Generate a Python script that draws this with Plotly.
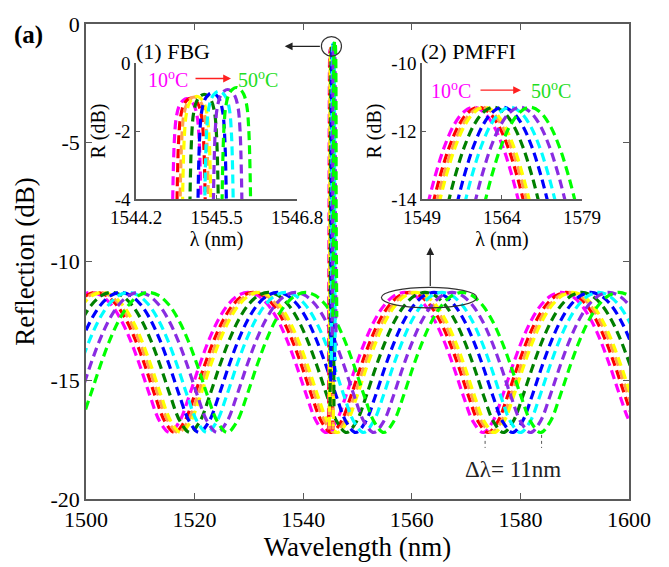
import plotly.graph_objects as go

# ---------------- data ----------------
temps_c = [10, 15, 20, 25, 30, 35, 40, 45, 50]
colors = ["#FF00FF", "#FF0000", "#FFA050", "#FFFF00", "#008000",
          "#0000FF", "#00FFFF", "#8A2BE2", "#00FF00"]

# PMFFI fringe: wavelength of the reflection dip near 1515-1526 nm (per temperature)
pm_dip_nm = [1515.40, 1516.34, 1516.96, 1517.46, 1519.15, 1520.84, 1522.28, 1524.15, 1526.00]
pm_period_nm = 28.85
# one fringe period, read every 1/16 period starting at the dip (dB)
pm_profile_db = [-17.20, -16.74, -15.66, -14.43, -13.32, -12.43, -11.80, -11.43,
                 -11.30, -11.43, -11.80, -12.43, -13.32, -14.43, -15.66, -16.74]

# FBG reflection peak (per temperature)
fbg_center_nm = [1545.02, 1545.09, 1545.14, 1545.18, 1545.30, 1545.43, 1545.54, 1545.68, 1545.82]
fbg_peak_db = [-1.05, -1.03, -1.00, -0.98, -0.92, -0.88, -0.83, -0.78, -0.72]
fbg_base_db = [-17.15, -17.18, -17.07, -16.93, -16.10, -15.05, -14.16, -13.12, -12.33]
# FBG peak profile: wavelength offset from centre and drop below the peak (dB)
fbg_offset_nm = [-0.36, -0.25, -0.235, -0.22, -0.20, -0.17, -0.12, -0.06, 0.0,
                 0.06, 0.12, 0.17, 0.20, 0.22, 0.235, 0.25, 0.36]
fbg_drop_db = [None, 7.0, 4.0, 2.3, 1.2, 0.55, 0.2, 0.05, 0.0,
               0.05, 0.2, 0.55, 1.2, 2.3, 4.0, 7.0, None]

# tick labels
main_xticks = [1500, 1520, 1540, 1560, 1580, 1600]
main_yticks = [0, -5, -10, -15, -20]
main_ytext = ["0", "-5", "-10", "-15", "-20"]
in1_xticks = [1544.2, 1545.5, 1546.8]
in1_yticks = [0, -2, -4]
in1_ytext = ["0", "-2", "-4"]
in2_xticks = [1549, 1564, 1579]
in2_yticks = [-10, -12, -14]
in2_ytext = ["-10", "-12", "-14"]

# ---------------- figure ----------------
SERIF = "Liberation Serif"
DASH = "9px,5px"
LW = 3.2

fig = go.Figure()

n_prof = len(pm_profile_db)
pm_x, pm_y = [], []
for i in range(len(temps_c)):
    xs, ys = [], []
    for m in range(-1, 4):
        for k in range(n_prof):
            xs.append(pm_dip_nm[i] + (m + k / n_prof) * pm_period_nm)
            ys.append(pm_profile_db[k])
    xs.append(pm_dip_nm[i] + 4 * pm_period_nm)
    ys.append(pm_profile_db[0])
    pm_x.append(xs)
    pm_y.append(ys)

fbg_x, fbg_y = [], []
for i in range(len(temps_c)):
    xs = [fbg_center_nm[i] + d for d in fbg_offset_nm]
    ys = [fbg_base_db[i] if d is None else fbg_peak_db[i] - d for d in fbg_drop_db]
    fbg_x.append(xs)
    fbg_y.append(ys)

for ax_x, ax_y in [("x", "y"), ("x3", "y3")]:
    for i in range(len(temps_c)):
        fig.add_trace(go.Scatter(x=pm_x[i], y=pm_y[i], mode="lines", xaxis=ax_x, yaxis=ax_y,
                                 line=dict(color=colors[i], width=LW, dash=DASH, shape="spline"),
                                 showlegend=False, hoverinfo="skip"))
for ax_x, ax_y in [("x", "y"), ("x2", "y2")]:
    for i in range(len(temps_c)):
        fig.add_trace(go.Scatter(x=fbg_x[i], y=fbg_y[i], mode="lines", xaxis=ax_x, yaxis=ax_y,
                                 line=dict(color=colors[i], width=LW, dash=DASH, shape="spline"),
                                 showlegend=False, hoverinfo="skip"))

AXC = "#5a5a5a"
main_ax = dict(showline=True, linecolor=AXC, linewidth=1.6, mirror="ticks", ticks="inside",
               ticklen=6, tickcolor=AXC, showgrid=False, zeroline=False,
               tickfont=dict(family=SERIF, size=22, color="black"))
inset_ax = dict(showline=True, linecolor=AXC, linewidth=1.5, mirror=False, ticks="inside",
                ticklen=4, tickcolor=AXC, showgrid=False, zeroline=False,
                tickfont=dict(family=SERIF, size=19, color="black"))

fig.update_layout(
    width=669, height=567,
    margin=dict(l=86, r=40, t=12, b=67),
    paper_bgcolor="white", plot_bgcolor="white",
    font=dict(family=SERIF, color="black"),
    xaxis=dict(main_ax, range=[1500, 1600], tickvals=main_xticks,
               title=dict(text="Wavelength (nm)", font=dict(family=SERIF, size=27), standoff=4)),
    yaxis=dict(main_ax, range=[-20, 0], tickvals=main_yticks, ticktext=main_ytext,
               title=dict(text="Reflection (dB)", font=dict(family=SERIF, size=27), standoff=8)),
    xaxis2=dict(inset_ax, domain=[0.0921, 0.3886], anchor="y2", range=[1544.2, 1546.8],
                tickvals=in1_xticks, ticktext=[str(v) for v in in1_xticks],
                title=dict(text="λ (nm)", font=dict(family=SERIF, size=20), standoff=2)),
    yaxis2=dict(inset_ax, domain=[0.6311, 0.918], anchor="x2", range=[-4, 0],
                tickvals=in1_yticks, ticktext=in1_ytext,
                title=dict(text="R (dB)", font=dict(family=SERIF, size=20), standoff=4)),
    xaxis3=dict(inset_ax, domain=[0.6188, 0.9134], anchor="y3", range=[1549, 1579],
                tickvals=in2_xticks, ticktext=[str(v) for v in in2_xticks],
                title=dict(text="λ (nm)", font=dict(family=SERIF, size=20), standoff=2)),
    yaxis3=dict(inset_ax, domain=[0.6311, 0.918], anchor="x3", range=[-14, -10],
                tickvals=in2_yticks, ticktext=in2_ytext,
                title=dict(text="R (dB)", font=dict(family=SERIF, size=20), standoff=4)),
)

# shapes: circle around FBG peak, ellipse around PMFFI peaks, dotted markers of shift
fig.add_shape(type="circle", xref="x", yref="y", x0=1543.35, x1=1547.05, y0=-1.35, y1=-0.53,
              line=dict(color="#333333", width=1.2))
fig.add_shape(type="circle", xref="x", yref="y", x0=1554.4, x1=1572.0, y0=-11.95, y1=-11.09,
              line=dict(color="#333333", width=1.2))
for xv in [1573.5, 1583.9]:
    fig.add_shape(type="line", xref="x", yref="y", x0=xv, x1=xv, y0=-17.3, y1=-17.85,
                  line=dict(color="#555555", width=1, dash="dot"))

# arrows
fig.add_annotation(x=1536.6, y=-0.94, ax=1543.35, ay=-0.94, xref="x", yref="y", axref="x", ayref="y",
                   text="", showarrow=True, arrowhead=2, arrowsize=1.3, arrowwidth=1.2, arrowcolor="#222222")
fig.add_annotation(x=1563.4, y=-9.4, ax=1563.4, ay=-11.09, xref="x", yref="y", axref="x", ayref="y",
                   text="", showarrow=True, arrowhead=2, arrowsize=1.3, arrowwidth=1.2, arrowcolor="#222222")

# texts
def px_x(p):
    return (p - 86) / 543.0

def px_y(p):
    return (500 - p) / 488.0

fig.add_annotation(x=px_x(12), y=px_y(23), xref="paper", yref="paper", xanchor="left", yanchor="middle",
                   text="<b>(a)</b>", showarrow=False, font=dict(family=SERIF, size=25, color="black"))
fig.add_annotation(x=px_x(134), y=px_y(40), xref="paper", yref="paper", xanchor="left", yanchor="middle",
                   text="(1) FBG", showarrow=False, font=dict(family=SERIF, size=22, color="black"))
fig.add_annotation(x=px_x(419), y=px_y(40), xref="paper", yref="paper", xanchor="left", yanchor="middle",
                   text="(2) PMFFI", showarrow=False, font=dict(family=SERIF, size=22, color="black"))

for (x10, xarr0, xarr1, x50, yy) in [(146, 194, 231, 236, 68), (429, 479, 521, 529, 80)]:
    fig.add_annotation(x=px_x(x10), y=px_y(yy), xref="paper", yref="paper", xanchor="left", yanchor="middle",
                       text="10<sup>o</sup>C", showarrow=False, font=dict(family=SERIF, size=20, color="#FF00FF"))
    fig.add_annotation(x=px_x(x50), y=px_y(yy), xref="paper", yref="paper", xanchor="left", yanchor="middle",
                       text="50<sup>o</sup>C", showarrow=False, font=dict(family=SERIF, size=20, color="#22DD22"))
    fig.add_annotation(x=px_x(xarr1), y=px_y(yy), ax=-(xarr1 - xarr0), ay=0, xref="paper", yref="paper",
                       axref="pixel", ayref="pixel", text="", showarrow=True, arrowhead=2, arrowsize=1.2,
                       arrowwidth=1.3, arrowcolor="#FF2020")

fig.add_annotation(x=1578.7, y=-18.75, xref="x", yref="y", text="Δλ= 11nm", showarrow=False,
                   font=dict(family=SERIF, size=23, color="#222222"))

fig.write_html("out.html")
